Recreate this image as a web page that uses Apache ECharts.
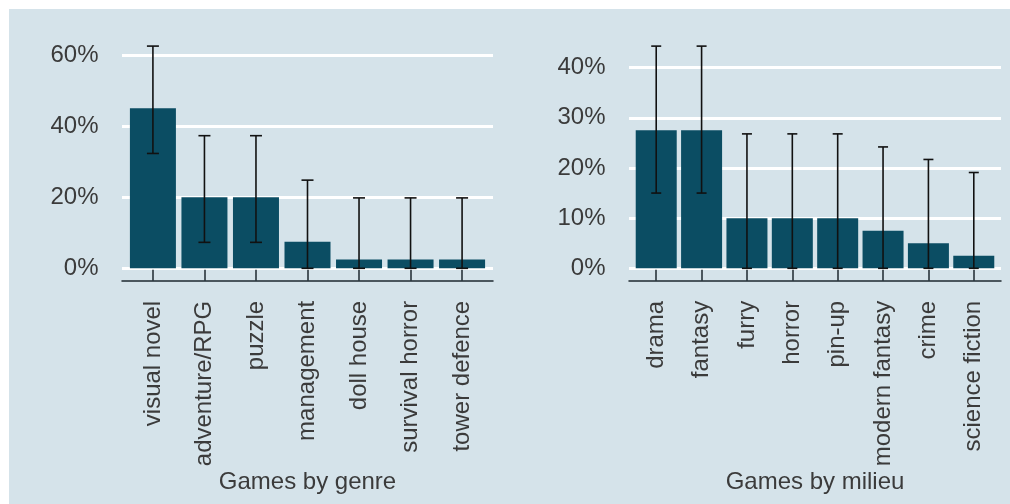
<!DOCTYPE html>
<html>
<head>
<meta charset="utf-8">
<script src="https://cdn.jsdelivr.net/npm/echarts@6/dist/echarts.min.js"></script>
<style>
html,body{margin:0;padding:0;background:#ffffff;}
#chart{width:1010px;height:504px;}
</style>
</head>
<body>
<div id="chart"></div>
<script>
// Left panel: games by genre
const genreCategories = ['visual novel','adventure/RPG','puzzle','management','doll house','survival horror','tower defence'];
const genreValues = [0.45, 0.20, 0.20, 0.075, 0.025, 0.025, 0.025];
const genreLow    = [0.323, 0.073, 0.073, 0.0, 0.0, 0.0, 0.0];
const genreHigh   = [0.625, 0.373, 0.373, 0.248, 0.198, 0.198, 0.198];

// Right panel: games by milieu
const milieuCategories = ['drama','fantasy','furry','horror','pin-up','modern fantasy','crime','science fiction'];
const milieuValues = [0.275, 0.275, 0.10, 0.10, 0.10, 0.075, 0.05, 0.025];
const milieuLow    = [0.15, 0.15, 0.0, 0.0, 0.0, 0.0, 0.0, 0.0];
const milieuHigh   = [0.443, 0.443, 0.268, 0.268, 0.268, 0.242, 0.217, 0.191];

const yTicksLeft = {max: 0.65, interval: 0.2};
const yTicksRight = {max: 0.45, interval: 0.1};

const BG = '#d5e3ea';
const BAR = '#0b4d63';
const TXT = '#3b3b3b';
const FONT = 'Liberation Sans, Arial, sans-serif';
const FS = 24;

function positions(cats) { return cats.map((c, i) => i + 1); }
function barData(vals) { return vals.map((v, i) => [i + 1, v]); }
function errData(low, high) { return low.map((l, i) => [i + 1, l, high[i]]); }
function errRender(capHalf) {
  return function (params, api) {
    const x = api.value(0);
    const lo = api.coord([x, api.value(1)]);
    const hi = api.coord([x, api.value(2)]);
    const st = {stroke: '#111111', lineWidth: 1.6};
    return {
      type: 'group',
      children: [
        {type: 'line', shape: {x1: lo[0], y1: lo[1], x2: hi[0], y2: hi[1]}, style: st},
        {type: 'line', shape: {x1: lo[0] - capHalf, y1: lo[1], x2: lo[0] + capHalf, y2: lo[1]}, style: st},
        {type: 'line', shape: {x1: hi[0] - capHalf, y1: hi[1], x2: hi[0] + capHalf, y2: hi[1]}, style: st}
      ]
    };
  };
}

function xAxisDef(gridIndex, cats, name) {
  const pos = positions(cats);
  return {
    type: 'value', gridIndex: gridIndex,
    min: 0.4, max: cats.length + 0.6,
    offset: 12.5,
    axisLine: {show: true, onZero: false, lineStyle: {color: '#1e2a30', width: 1.5}},
    axisTick: {show: true, inside: true, length: 11, customValues: pos, lineStyle: {color: '#1e2a30', width: 1.5}},
    axisLabel: {
      rotate: 90, margin: 20, color: TXT, fontSize: FS, fontFamily: FONT, padding: [0, 0, 12, 0],
      customValues: pos, showMinLabel: true, showMaxLabel: true,
      formatter: v => cats[Math.round(v) - 1] || ''
    },
    name: name, nameLocation: 'middle', nameGap: 186,
    nameTextStyle: {color: TXT, fontSize: FS, fontFamily: FONT},
    splitLine: {show: false}
  };
}
function yAxisDef(gridIndex, t) {
  return {
    type: 'value', gridIndex: gridIndex, min: 0, max: t.max, interval: t.interval,
    axisLine: {show: false}, axisTick: {show: false},
    axisLabel: {
      color: TXT, fontSize: FS, fontFamily: FONT, margin: 23.5, showMaxLabel: false,
      formatter: v => Math.round(v * 100) + '%'
    },
    splitLine: {show: true, showMaxLine: false, lineStyle: {color: '#ffffff', width: 3}}
  };
}

const chart = echarts.init(document.getElementById('chart'), null, {renderer: 'canvas'});
chart.setOption({
  backgroundColor: '#ffffff',
  animation: false,
  graphic: [{type: 'rect', z: -10, silent: true, shape: {x: 9, y: 9, width: 1001, height: 495}, style: {fill: BG}}],
  grid: [
    {left: 122, right: 517, top: 37.2, bottom: 235.7},
    {left: 629, right: 9, top: 42.6, bottom: 235.7}
  ],
  xAxis: [
    xAxisDef(0, genreCategories, 'Games by genre'),
    xAxisDef(1, milieuCategories, 'Games by milieu')
  ],
  yAxis: [yAxisDef(0, yTicksLeft), yAxisDef(1, yTicksRight)],
  series: [
    {type: 'bar', xAxisIndex: 0, yAxisIndex: 0, data: barData(genreValues), barWidth: 46, itemStyle: {color: BAR}, z: 2},
    {type: 'custom', xAxisIndex: 0, yAxisIndex: 0, data: errData(genreLow, genreHigh), renderItem: errRender(6), z: 5},
    {type: 'bar', xAxisIndex: 1, yAxisIndex: 1, data: barData(milieuValues), barWidth: 41, itemStyle: {color: BAR}, z: 2},
    {type: 'custom', xAxisIndex: 1, yAxisIndex: 1, data: errData(milieuLow, milieuHigh), renderItem: errRender(5), z: 5}
  ]
});
</script>
</body>
</html>
